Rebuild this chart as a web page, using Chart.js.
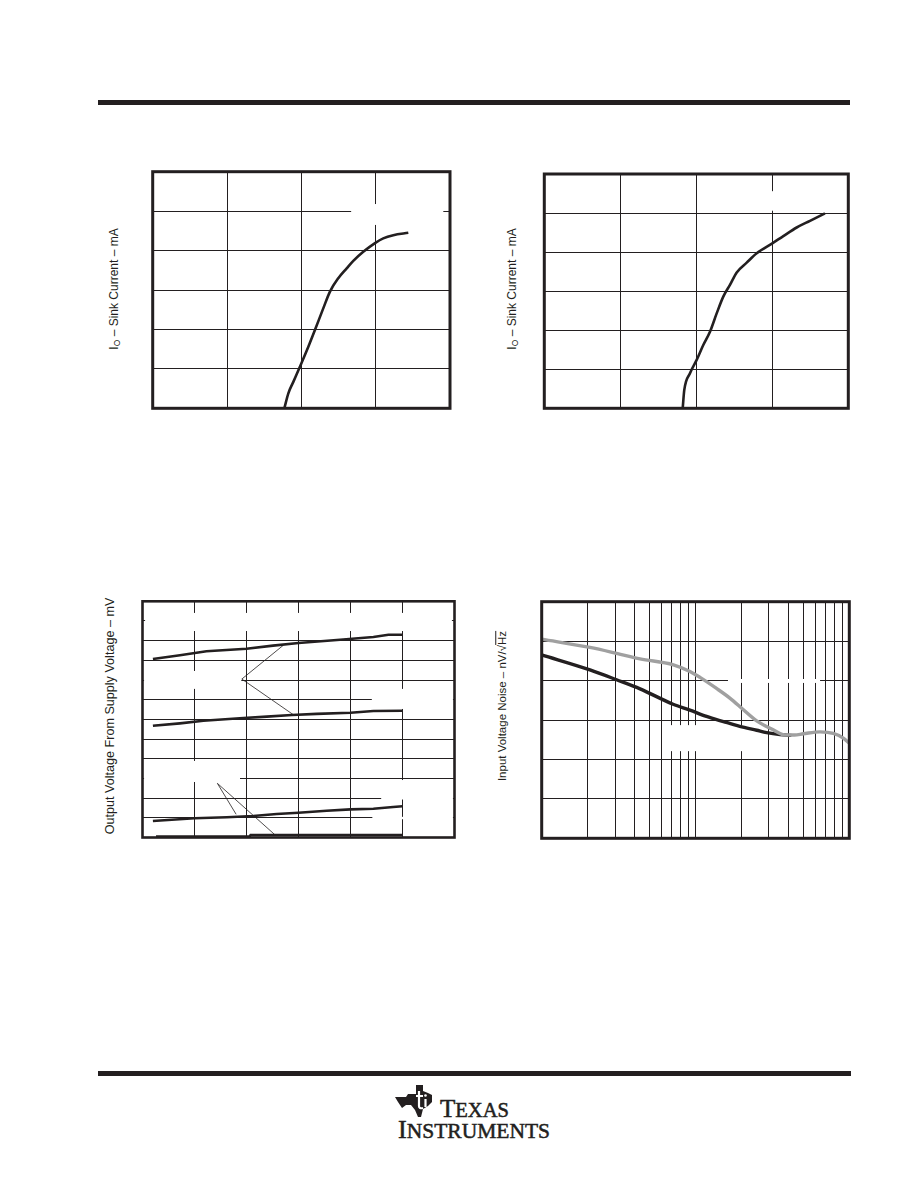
<!DOCTYPE html>
<html><head><meta charset="utf-8">
<script src="https://cdn.jsdelivr.net/npm/chart.js@4.4.1/dist/chart.umd.min.js"></script>
<style>
html,body{margin:0;padding:0;background:#fff;}
#page{position:relative;width:918px;height:1188px;overflow:hidden;background:#fff;font-family:"Liberation Sans",Arial,sans-serif;color:#231f20;}
.rule{position:absolute;background:#231f20;}
canvas{position:absolute;}
.ytitle{position:absolute;transform:translate(-50%,-50%) rotate(-90deg);white-space:nowrap;font-size:12px;line-height:1;}
.ytitle sub{font-size:8.5px;vertical-align:-2px;}
.ov{text-decoration:overline;}
</style></head><body>
<div id="page">
  <div class="rule" style="left:98px;top:100px;width:752px;height:4.5px;"></div>
  <div class="rule" style="left:98px;top:1070.5px;width:753px;height:5px;"></div>

  <canvas id="c1"></canvas>
  <canvas id="c2"></canvas>
  <canvas id="c3"></canvas>
  <canvas id="c4"></canvas>

  <div class="ytitle" style="left:114.5px;top:289px;">I<sub>O</sub> – Sink Current – mA</div>
  <div class="ytitle" style="left:512.5px;top:289px;">I<sub>O</sub> – Sink Current – mA</div>
  <div class="ytitle" style="left:109.5px;top:715.5px;font-size:12.6px;">Output Voltage From Supply Voltage – mV</div>
  <div class="ytitle" style="left:502.5px;top:706px;font-size:11.5px;">Input Voltage Noise – nV/√<span class="ov">Hz</span></div>

  <svg style="position:absolute;left:392px;top:1082px;" width="170" height="62" viewBox="0 0 170 62">
    <polygon fill="#231f20" points="24,3 31,3 31,9 36,11 40,13 40,20 36,24 31,27 29,35 26,35 23,28 19,23 14,23 10,26 6,20 3,15 14,15 16,12 24,12"/>
    <path d="M27,9 L27,24 Q27,27 31,26 M24,14 L31,14 M33.5,17 L33.5,25" stroke="#fff" stroke-width="2.2" fill="none"/>
    <circle cx="33.5" cy="13.5" r="1.3" fill="#fff"/>
    <text x="48" y="35" font-family="Liberation Serif, Times New Roman, serif" fill="#231f20" stroke="#231f20" stroke-width="0.5" textLength="69" lengthAdjust="spacingAndGlyphs"><tspan font-size="25">T</tspan><tspan font-size="20.5">EXAS</tspan></text>
    <text x="6" y="56" font-family="Liberation Serif, Times New Roman, serif" fill="#231f20" stroke="#231f20" stroke-width="0.5" textLength="152" lengthAdjust="spacingAndGlyphs"><tspan font-size="25">I</tspan><tspan font-size="20.5">NSTRUMENTS</tspan></text>
  </svg>
</div>
<script>
// ---------- data (grid units; tick labels are not shown in the source) ----------
const sink1X = [1.771, 1.825, 1.892, 1.982, 2.094, 2.184, 2.296, 2.385, 2.497, 2.610, 2.699, 2.833, 2.991, 3.102, 3.237, 3.439];
const sink1Y = [0, 0.38, 0.67, 1.06, 1.56, 1.99, 2.54, 2.96, 3.30, 3.55, 3.74, 3.97, 4.19, 4.31, 4.39, 4.45];

const sink2X = [1.821, 1.842, 1.917, 2.005, 2.092, 2.180, 2.268, 2.355, 2.443, 2.532, 2.663, 2.795, 3.005, 3.145, 3.321, 3.496, 3.693];
const sink2Y = [0, 0.47, 0.90, 1.24, 1.62, 1.96, 2.43, 2.86, 3.16, 3.48, 3.73, 3.97, 4.23, 4.41, 4.63, 4.80, 4.99];

const outAX = [0.2, 0.72, 1.23, 2.0, 2.51, 3.0, 3.8, 4.44, 4.73, 5.0];
const outAY = [9.07, 9.26, 9.46, 9.59, 9.75, 9.88, 10.05, 10.19, 10.30, 10.30];
const outBX = [0.2, 0.72, 1.17, 1.87, 2.39, 2.87, 3.35, 4.0, 4.44, 5.0];
const outBY = [5.68, 5.80, 5.93, 6.06, 6.14, 6.22, 6.28, 6.34, 6.43, 6.44];
const outCX = [0.2, 1.0, 1.62, 2.13, 2.58, 3.0, 3.54, 4.0, 4.44, 4.82, 5.0];
const outCY = [0.84, 0.98, 1.03, 1.09, 1.19, 1.26, 1.36, 1.43, 1.46, 1.55, 1.59];
const outDX = [0.26, 2.06, 2.08, 5.0];
const outDY = [0.05, 0.05, 0.13, 0.13];
const leader1X = [2.71, 1.91, 2.90];
const leader1Y = [9.77, 8.05, 6.24];
const leader2X = [1.80, 1.44, 2.55];
const leader2Y = [1.18, 2.75, 0.13];

const noiseGrayF = [10, 20.6, 30.7, 43.6, 71.8, 92, 107, 137, 168, 205, 250, 320, 371, 440, 502, 645, 787, 914, 1000];
const noiseGrayV = [5.05, 4.84, 4.69, 4.55, 4.40, 4.23, 4.08, 3.80, 3.55, 3.26, 2.98, 2.75, 2.63, 2.62, 2.65, 2.70, 2.66, 2.54, 2.41];
const noiseBlackF = [10, 20.6, 30.7, 43.6, 71.5, 92, 118, 152, 194, 250, 290, 355, 420];
const noiseBlackV = [4.65, 4.27, 4.02, 3.79, 3.40, 3.25, 3.09, 2.96, 2.84, 2.74, 2.68, 2.63, 2.61];
const noiseGridFreqs = [10,20,30,40,50,60,70,80,90,100,200,300,400,500,600,700,800,900,1000];

// ---------- helpers ----------
const ink = '#231f20';
const pts = (xs, ys) => xs.map((x, i) => ({x, y: ys[i]}));

Chart.register({
  id: 'whiteouts',
  beforeDatasetsDraw(chart, args, opts) {
    const ctx = chart.ctx, xs = chart.scales.x, ys = chart.scales.y;
    ctx.save(); ctx.fillStyle = '#fff';
    for (const r of (opts.rects || [])) {
      const x0 = xs.getPixelForValue(r[0]), x1 = xs.getPixelForValue(r[1]);
      const y0 = ys.getPixelForValue(r[2]), y1 = ys.getPixelForValue(r[3]);
      ctx.fillRect(Math.min(x0,x1), Math.min(y0,y1), Math.abs(x1-x0), Math.abs(y1-y0));
    }
    ctx.restore();
  }
});
Chart.register({
  id: 'frame',
  afterDraw(chart, args, opts) {
    const {left, top, right, bottom} = chart.chartArea, ctx = chart.ctx;
    ctx.save(); ctx.strokeStyle = ink; ctx.lineWidth = opts.width || 3;
    ctx.strokeRect(left, top, right - left, bottom - top);
    ctx.restore();
  }
});

function place(id, a) {
  const cl = Math.floor(a.l) - 6, ct = Math.floor(a.t) - 6, cr = Math.ceil(a.r) + 6, cb = Math.ceil(a.b) + 6;
  const c = document.getElementById(id);
  c.style.left = cl + 'px'; c.style.top = ct + 'px';
  c.style.width = (cr - cl) + 'px'; c.style.height = (cb - ct) + 'px';
  c.width = cr - cl; c.height = cb - ct;
  return {left: a.l - cl, top: a.t - ct, right: cr - a.r, bottom: cb - a.b};
}
function lin(min, max, step) {
  return {type: 'linear', min, max, ticks: {display: false, stepSize: step},
          grid: {color: ink, lineWidth: 1, drawTicks: false}, border: {display: false}};
}
function opts(pad, x, y, rects, fw) {
  return {responsive: false, animation: false, events: [],
    layout: {padding: pad, autoPadding: false},
    plugins: {legend: {display: false}, tooltip: {enabled: false}, whiteouts: {rects}, frame: {width: fw}},
    elements: {point: {radius: 0}},
    scales: {x, y}};
}
function ds(data, color, width, smooth) {
  const d = {data, borderColor: color, borderWidth: width, tension: 0, fill: false, pointRadius: 0};
  if (smooth) d.cubicInterpolationMode = 'monotone';
  return d;
}

// Chart 1
new Chart(document.getElementById('c1'), {
  type: 'line',
  data: {datasets: [ds(pts(sink1X, sink1Y), ink, 2.6, true)]},
  options: opts(place('c1', {l:152.7, t:171.7, r:450, b:408.3}), lin(0,4,1), lin(0,6,1),
    [[2.67, 3.91, 4.65, 5.18]], 3)
});
// Chart 2
new Chart(document.getElementById('c2'), {
  type: 'line',
  data: {datasets: [ds(pts(sink2X, sink2Y), ink, 2.6, true)]},
  options: opts(place('c2', {l:544.3, t:174, r:848.3, b:408.3}), lin(0,4,1), lin(0,6,1),
    [[2.96, 3.06, 5.06, 5.56]], 3)
});
// Chart 3
new Chart(document.getElementById('c3'), {
  type: 'line',
  data: {datasets: [
    ds(pts(outAX, outAY), ink, 2.6),
    ds(pts(outBX, outBY), ink, 2.6),
    ds(pts(outCX, outCY), ink, 2.6),
    ds(pts(outDX, outDY), ink, 2.6),
    ds(pts(leader1X, leader1Y), ink, 0.8),
    ds(pts(leader2X, leader2Y), ink, 0.8)
  ]},
  options: opts(place('c3', {l:142.5, t:601.3, r:454.5, b:837.5}), lin(0,6,1), lin(0,12,1),
    [[0.05, 5.95, 10.49, 11.41], [0.03, 1.90, 7.55, 8.46], [4.41, 5.97, 6.53, 7.55],
     [0.03, 1.875, 2.82, 3.89], [4.59, 5.97, 1.93, 2.92], [4.42, 5.97, 0.93, 1.05]], 2.6)
});
// Chart 4
const xLog = {type: 'logarithmic', min: 10, max: 1000, ticks: {display: false},
  grid: {color: ink, lineWidth: 1, drawTicks: false}, border: {display: false},
  afterBuildTicks: s => { s.ticks = noiseGridFreqs.map(v => ({value: v})); }};
new Chart(document.getElementById('c4'), {
  type: 'line',
  data: {datasets: [
    ds(pts(noiseGrayF, noiseGrayV), '#a0a0a0', 3.4, true),
    ds(pts(noiseBlackF, noiseBlackV), ink, 3.4, true)
  ]},
  options: opts(place('c4', {l:541.7, t:601.7, r:849.3, b:838.3}), xLog, lin(0,6,1),
    [[162.6, 645.5, 3.94, 4.04], [66.3, 213, 2.21, 2.87]], 3)
});
</script>
</body></html>
